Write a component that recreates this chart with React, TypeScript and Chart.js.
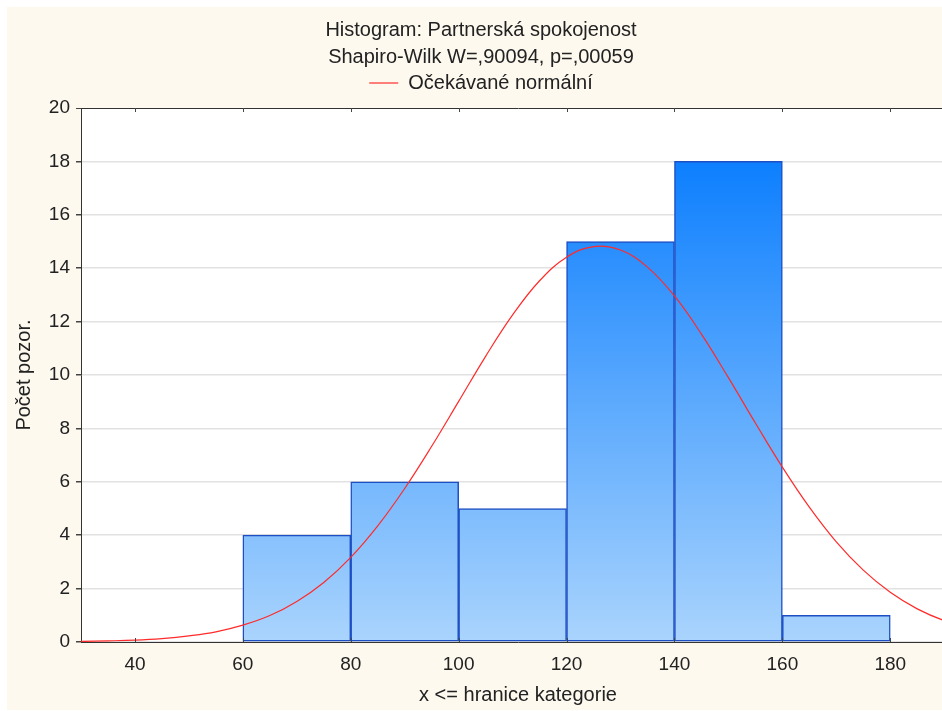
import React, { useEffect, useRef } from "react";
import { Chart, registerables } from "chart.js";

Chart.register(...registerables);

// Histogram bins (lower bound of each class) and counts
const binStarts = [60, 80, 100, 120, 140, 160];
const binWidth = 20;
const counts = [4, 6, 5, 15, 18, 1];

// Expected normal curve
const curveX = [30, 35, 40, 45, 50, 55, 60, 65, 70, 75, 80, 85, 90, 95, 100, 105, 110, 115, 120, 125, 130, 135, 140, 145, 150, 155, 160, 165, 170, 175, 180, 185, 190, 195];
const curveY = [0.02, 0.04, 0.07, 0.13, 0.23, 0.38, 0.63, 0.99, 1.52, 2.23, 3.17, 4.35, 5.75, 7.33, 9.01, 10.7, 12.25, 13.53, 14.41, 14.81, 14.68, 14.04, 12.96, 11.53, 9.9, 8.2, 6.55, 5.05, 3.75, 2.69, 1.86, 1.24, 0.8, 0.5];

const xTicks = [40, 60, 80, 100, 120, 140, 160, 180];
const yTicks = [0, 2, 4, 6, 8, 10, 12, 14, 16, 18, 20];

const titleText = "Histogram: Partnerská spokojenost";
const subtitleText = "Shapiro-Wilk W=,90094, p=,00059";
const curveLabel = "Očekávané normální";
const xTitle = "x <= hranice kategorie";
const yTitle = "Počet pozor.";

const FONT = "'Liberation Sans', Arial, sans-serif";

const plotBackground = {
  id: "plotBackground",
  beforeLayout(chart: any) {
    const lg = chart.legend;
    if (lg && !lg.__extraPatched) {
      const origFit = lg.fit;
      lg.fit = function (this: any) {
        origFit.call(this);
        this.height += 5;
      };
      lg.__extraPatched = true;
    }
  },
  beforeDraw(chart: any) {
    const { ctx, chartArea } = chart;
    if (!chartArea) return;
    ctx.save();
    ctx.fillStyle = "#ffffff";
    ctx.fillRect(chartArea.left, chartArea.top, chartArea.right - chartArea.left, chartArea.bottom - chartArea.top);
    ctx.restore();
  },
  afterDraw(chart: any) {
    const { ctx, chartArea } = chart;
    const xs = chart.scales.x;
    if (!chartArea || !xs) return;
    ctx.save();
    ctx.strokeStyle = "#444";
    ctx.lineWidth = 1;
    ctx.beginPath();
    for (const v of xTicks) {
      const px = Math.round(xs.getPixelForValue(v)) + 0.5;
      ctx.moveTo(px, chartArea.bottom);
      ctx.lineTo(px, chartArea.bottom - 4);
      ctx.moveTo(px, chartArea.top);
      ctx.lineTo(px, chartArea.top + 4);
    }
    ctx.stroke();
    ctx.restore();
  },
};

export default function App() {
  const ref = useRef<HTMLCanvasElement | null>(null);

  useEffect(() => {
    const canvas = ref.current;
    if (!canvas) return;
    const maxCount = Math.max(...counts);
    const chart = new Chart(canvas, {
      type: "bar",
      plugins: [plotBackground],
      data: {
        datasets: [
          {
            type: "line",
            label: curveLabel,
            data: curveX.map((x, i) => ({ x, y: curveY[i] })),
            borderColor: "#ff2a2a",
            backgroundColor: "#ff2a2a",
            borderWidth: 1.2,
            pointRadius: 0,
            tension: 0.4,
            fill: false,
          } as any,
          {
            type: "bar",
            label: "counts",
            data: binStarts.map((s, i) => ({ x: s + binWidth / 2, y: counts[i] })),
            barPercentage: 1,
            categoryPercentage: 1,
            borderColor: "#1d4fc4",
            borderWidth: 1.5,
            borderSkipped: false,
            backgroundColor: (ctx: any) => {
              const c = ctx.chart;
              const area = c.chartArea;
              const ys = c.scales.y;
              if (!area || !ys) return "#5aa8fc";
              const top = ys.getPixelForValue(maxCount);
              const bottom = ys.getPixelForValue(0);
              const g = c.ctx.createLinearGradient(0, top, 0, bottom);
              g.addColorStop(0, "#0d7ffe");
              g.addColorStop(1, "#aad4fd");
              return g;
            },
          } as any,
        ],
      },
      options: {
        responsive: false,
        animation: false,
        devicePixelRatio: 1,
        layout: { padding: { left: 0, right: 0, top: 0, bottom: 0 } },
        plugins: {
          title: {
            display: true,
            text: titleText,
            color: "#222",
            font: { family: FONT, size: 20, weight: "normal" },
            padding: { top: 11, bottom: 3 },
          },
          subtitle: {
            display: true,
            text: subtitleText,
            color: "#222",
            font: { family: FONT, size: 20, weight: "normal" },
            padding: { top: 0, bottom: -6 },
          },
          legend: {
            display: true,
            labels: {
              color: "#222",
              font: { family: FONT, size: 20 },
              usePointStyle: true,
              pointStyle: "line",
              pointStyleWidth: 29,
              padding: 10,
              filter: (item: any) => item.datasetIndex === 0,
            },
          },
          tooltip: { enabled: false },
        },
        scales: {
          x: {
            type: "linear",
            min: 30,
            max: 192,
            offset: false,
            afterBuildTicks: (scale: any) => {
              scale.ticks = xTicks.map((v) => ({ value: v }));
            },
            afterFit: (scale: any) => {
              scale.height = 68;
            },
            grid: { display: true, drawOnChartArea: false, drawTicks: false, offset: false },
            border: { display: true, color: "#333", width: 1 },
            ticks: {
              color: "#222",
              font: { family: FONT, size: 19 },
              padding: 11,
              maxRotation: 0,
              autoSkip: false,
            },
            title: {
              display: true,
              text: xTitle,
              color: "#222",
              font: { family: FONT, size: 20 },
              padding: { top: 0, bottom: 3 },
            },
          },
          y: {
            min: 0,
            max: 20,
            afterBuildTicks: (scale: any) => {
              scale.ticks = yTicks.map((v) => ({ value: v }));
            },
            afterFit: (scale: any) => {
              scale.width = 74;
            },
            grid: {
              color: (ctx: any) => (ctx.tick && ctx.tick.value === 20 ? "#333" : "#e2e2e2"),
              lineWidth: (ctx: any) => (ctx.tick && ctx.tick.value === 20 ? 1 : 1.5),
              tickColor: "#444",
              tickLength: 5,
            },
            border: { display: true, color: "#333", width: 1 },
            ticks: {
              color: "#222",
              font: { family: FONT, size: 19 },
              padding: 6,
            },
            title: {
              display: true,
              text: yTitle,
              color: "#222",
              font: { family: FONT, size: 20 },
              padding: { top: 5, bottom: 0 },
            },
          },
        },
      },
    });
    return () => chart.destroy();
  }, []);

  return (
    <div
      style={{
        position: "fixed",
        left: 0,
        top: 0,
        width: 942,
        height: 711,
        overflow: "hidden",
        background: "#ffffff",
      }}
    >
      <div
        style={{
          position: "absolute",
          left: 7,
          top: 7,
          width: 948,
          height: 703,
          background: "#fdf9ef",
        }}
      >
        <canvas ref={ref} width={948} height={703} style={{ display: "block" }} />
      </div>
    </div>
  );
}
